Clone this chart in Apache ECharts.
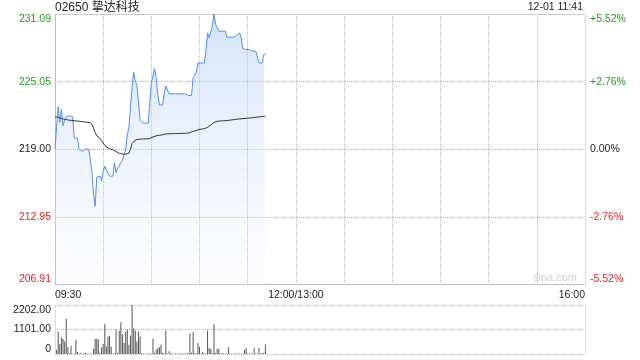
<!DOCTYPE html>
<html><head><meta charset="utf-8">
<script src="https://cdn.jsdelivr.net/npm/echarts@6/dist/echarts.min.js"></script>
<style>html,body{margin:0;padding:0;background:#fff}#c{width:640px;height:360px}</style>
</head><body><div id="c"></div>
<script>
const stockTitle = '02650 挚达科技';
const timeStamp = '12-01 11:41';
const watermark = 'sina.com';
const prevClose = 219.00;
const axisHalfRange = 12.09;
const xTickLabels = {0: '09:30', 150: '12:00/13:00', 330: '16:00'};
const volumeMax = 2202;

const price = [
219.00,221.00,222.80,221.40,222.60,221.10,221.60,221.90,221.90,222.00,
222.00,221.90,220.00,220.00,220.00,219.00,219.00,218.80,218.90,219.00,
219.00,219.00,218.95,217.00,215.00,213.90,216.50,216.50,216.60,216.20,
217.00,217.50,217.45,216.80,216.60,216.60,216.60,217.80,216.90,217.30,
217.50,217.80,218.00,218.50,219.00,220.30,220.90,222.80,224.50,225.90,
225.05,224.75,224.75,221.60,221.40,221.35,221.33,221.33,221.33,221.33,
224.90,225.00,226.20,225.40,223.90,222.96,222.96,222.96,224.00,224.66,
224.60,223.95,223.95,223.95,223.95,223.95,223.95,223.95,223.95,223.95,
223.95,223.95,223.95,223.80,223.80,223.80,225.40,225.60,225.90,226.70,
226.72,226.72,226.72,226.72,227.80,229.40,228.96,228.96,230.00,231.09,
230.15,229.90,229.55,229.55,229.55,229.55,229.55,229.02,229.02,229.02,
229.02,229.02,229.16,229.16,229.16,229.40,228.90,228.00,227.91,227.91,
227.91,227.91,227.91,227.77,227.77,227.77,227.77,226.72,226.72,226.72,
227.46,227.50];

const avgPrice = [
221.90,221.90,221.86,221.80,221.75,221.70,221.68,221.65,221.62,221.60,
221.58,221.56,221.55,221.53,221.52,221.50,221.48,221.47,221.45,221.43,
221.41,221.40,221.38,221.20,220.90,220.50,220.20,220.10,219.98,219.80,
219.55,219.40,219.20,219.09,219.05,219.00,218.95,218.87,218.80,218.70,
218.64,218.60,218.57,218.55,218.55,218.60,218.65,219.00,219.50,219.70,
219.80,219.88,219.90,219.90,219.91,219.92,219.93,219.93,219.94,219.95,
220.00,220.10,220.13,220.20,220.22,220.25,220.28,220.30,220.35,220.37,
220.38,220.38,220.39,220.39,220.40,220.40,220.41,220.41,220.42,220.42,
220.42,220.43,220.43,220.45,220.50,220.55,220.60,220.63,220.68,220.73,
220.78,220.80,220.82,220.84,220.86,220.95,221.05,221.15,221.30,221.40,
221.48,221.50,221.52,221.53,221.54,221.55,221.56,221.57,221.58,221.60,
221.62,221.64,221.66,221.68,221.70,221.71,221.72,221.74,221.75,221.76,
221.78,221.79,221.80,221.82,221.84,221.86,221.88,221.90,221.91,221.92,
221.95,221.96];

const volume = [
0,190,1010,450,740,680,565,1580,310,30,
370,15,20,640,90,20,45,10,20,60,
15,10,20,15,240,670,680,655,40,300,
450,1340,340,790,820,330,20,20,1090,40,
1040,1430,890,490,1010,1100,420,830,2202,1160,
1040,565,1010,790,30,20,15,20,15,20,
20,680,40,190,270,300,420,60,20,1060,
20,120,30,20,15,25,20,15,30,20,
15,25,20,30,935,60,980,40,20,490,
330,20,90,20,20,1060,270,220,30,1340,
40,240,240,20,30,20,15,25,300,20,
15,20,25,15,20,20,15,20,190,270,
20,30,15,20,270,20,15,270,20,30,
60,420];

const FONT = '"Liberation Sans", Arial, "Noto Sans CJK SC", sans-serif';
const GREEN = '#1f9e1f', RED = '#e62222', DARK = '#222';
const LABEL_SIZE = 10.5;
function devColor(v) { v = parseFloat(v); return Math.abs(v) < 1e-6 ? DARK : (v > 0 ? GREEN : RED); }
function roundDev(v) { v = Number(v); return Math.sign(v) * Math.round(Math.abs(v) * 100 + 1e-6) / 100; }

const priceData = price.map((p, i) => [i, p - prevClose]);
const avgData = avgPrice.map((p, i) => [i, p - prevClose]);
const volData = volume.map((v, i) => [i, v]);

const chart = echarts.init(document.getElementById('c'), null, {renderer: 'canvas'});
const dotted = () => ({color: '#b4b4b4', type: 'dotted', width: 1});

chart.setOption({
  animation: false,
  textStyle: {fontFamily: FONT},
  title: [
    {text: stockTitle, left: 55, top: 2, padding: 0, textStyle: {fontSize: 12, fontWeight: 'normal', color: '#222', fontFamily: FONT}},
    {text: timeStamp, right: 57, top: 2, padding: 0, textStyle: {fontSize: LABEL_SIZE, fontWeight: 'normal', color: '#222', fontFamily: FONT}}
  ],
  graphic: [{type: 'text', left: 533, top: 272, style: {text: watermark, fill: '#cfcfcf', font: '11px "Liberation Sans", Arial, sans-serif'}}],
  grid: [
    {left: 55, right: 55, top: 14, height: 270.5},
    {left: 55, right: 55, top: 305, height: 49}
  ],
  xAxis: [
    {type: 'value', gridIndex: 0, min: 0, max: 330, interval: 30,
     axisLine: {show: true, onZero: false, lineStyle: {color: '#bbb'}}, axisTick: {show: false},
     axisLabel: {formatter: v => xTickLabels[Math.round(v)] || '', alignMinLabel: 'left', alignMaxLabel: 'right', color: '#222', fontSize: LABEL_SIZE, margin: 5, fontFamily: FONT},
     splitLine: {show: true, lineStyle: dotted()}},
    {type: 'value', gridIndex: 0, position: 'top', min: 0, max: 330,
     axisLine: {show: true, onZero: false, lineStyle: {color: '#ccc'}}, axisTick: {show: false}, axisLabel: {show: false}, splitLine: {show: false}},
    {type: 'value', gridIndex: 1, min: 0, max: 330, interval: 30,
     axisLine: {show: false}, axisTick: {show: false}, axisLabel: {show: false}, splitLine: {show: false}}
  ],
  yAxis: [
    {type: 'value', gridIndex: 0, min: -axisHalfRange, max: axisHalfRange, interval: axisHalfRange / 2,
     axisLine: {show: true, onZero: false, lineStyle: {color: '#bbb'}}, axisTick: {show: false},
     axisLabel: {formatter: v => (prevClose + roundDev(v)).toFixed(2), color: v => devColor(v), fontSize: LABEL_SIZE, margin: 4, fontFamily: FONT,
                 verticalAlignMinLabel: 'bottom', verticalAlignMaxLabel: 'top'},
     splitLine: {show: true, lineStyle: dotted()}},
    {type: 'value', gridIndex: 0, position: 'right', min: -axisHalfRange, max: axisHalfRange, interval: axisHalfRange / 2,
     axisLine: {show: false}, axisTick: {show: false},
     axisLabel: {formatter: v => Math.abs(v) < 1e-9 ? '0.00%' : (v > 0 ? '+' : '') + (v / prevClose * 100).toFixed(2) + '%',
                 color: v => devColor(v), fontSize: LABEL_SIZE, margin: 5, fontFamily: FONT,
                 verticalAlignMinLabel: 'bottom', verticalAlignMaxLabel: 'top'},
     splitLine: {show: false}},
    {type: 'value', gridIndex: 1, min: 0, max: volumeMax, interval: volumeMax / 2,
     axisLine: {show: true, lineStyle: {color: '#ddd'}}, axisTick: {show: false},
     axisLabel: {formatter: v => Number(v) === 0 ? '0' : Number(v).toFixed(2), color: '#222', fontSize: LABEL_SIZE, margin: 4, fontFamily: FONT,
                 verticalAlignMinLabel: 'bottom', verticalAlignMaxLabel: 'top'},
     splitLine: {show: true, lineStyle: dotted()}},
    {type: 'value', gridIndex: 1, position: 'right', min: 0, max: volumeMax,
     axisLine: {show: true, lineStyle: {color: '#ddd'}}, axisTick: {show: false}, axisLabel: {show: false}, splitLine: {show: false}}
  ],
  series: [
    {type: 'line', xAxisIndex: 0, yAxisIndex: 0, data: priceData, showSymbol: false, symbol: 'none',
     lineStyle: {color: '#4d8ff0', width: 1}, itemStyle: {color: '#4d8ff0'},
     areaStyle: {origin: 'start', color: new echarts.graphic.LinearGradient(0, 0, 0, 1, [
       {offset: 0, color: 'rgba(185,208,246,0.85)'}, {offset: 1, color: 'rgba(235,242,253,0.25)'}])}},
    {type: 'line', xAxisIndex: 0, yAxisIndex: 0, data: avgData, showSymbol: false, symbol: 'none',
     lineStyle: {color: '#333', width: 1}},
    {type: 'bar', xAxisIndex: 2, yAxisIndex: 2, data: volData, barWidth: 1, itemStyle: {color: '#555'}}
  ]
});
</script></body></html>
